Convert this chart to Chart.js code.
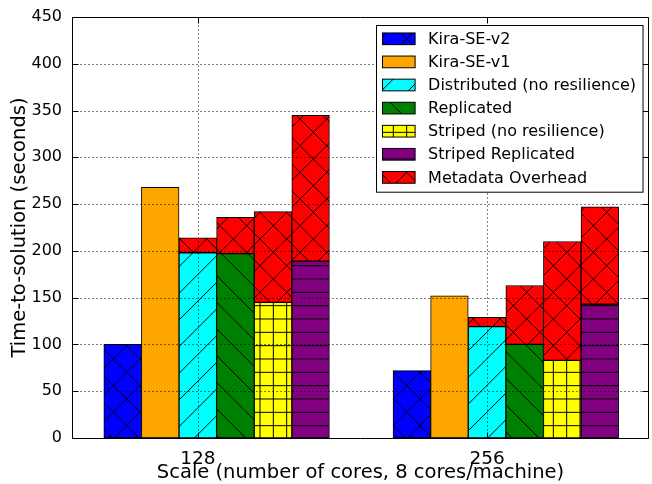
<!DOCTYPE html>
<html>
<head>
<meta charset="utf-8">
<script src="https://cdn.jsdelivr.net/npm/chart.js@4"></script>
<style>
  html, body { margin: 0; padding: 0; background: #fff; }
  #wrap { width: 652px; height: 484px; }
</style>
</head>
<body>
<div id="wrap"><canvas id="chart" width="652" height="484"></canvas></div>
<script>
// Scales (cores) on the x axis
const categories = ['128', '256'];

// Time-to-solution in seconds per configuration
const kiraV2 = [100, 72];
const kiraV1 = [268, 152];
const distributed = [198, 119];
const replicated = [197, 100];
const striped = [145, 83];
const stripedReplicated = [189, 143];

// Metadata overhead stacked on top of each storage configuration
const overheadDistributed = [16, 10];
const overheadReplicated = [39, 63];
const overheadStriped = [97, 127];
const overheadStripedReplicated = [156, 104];

const yTickValues = [0, 50, 100, 150, 200, 250, 300, 350, 400, 450];

const seriesNames = [
  'Kira-SE-v2', 'Kira-SE-v1', 'Distributed (no resilience)', 'Replicated',
  'Striped (no resilience)', 'Striped Replicated', 'Metadata Overhead'
];

const FONT = '"DejaVu Sans", "Liberation Sans", sans-serif';

// ---- hatch patterns (line spacing, phase anchored to the canvas) ----
const STEP = 40 / 3;
const TILE = 80;
const PH_X = 6.67, PH_Y = 12.33;
function makeHatch(color, spec) {
  const c = document.createElement('canvas');
  c.width = c.height = TILE;
  const g = c.getContext('2d');
  g.fillStyle = color;
  g.fillRect(0, 0, TILE, TILE);
  if (spec) {
    g.strokeStyle = '#000';
    g.lineWidth = 1;
    g.beginPath();
    const lines = (phase, period, fn) => { for (let j = -14; j <= 14; j++) fn(phase + j * period); };
    if (spec.includes('-') || spec.includes('+'))
      lines(PH_Y, STEP, o => { g.moveTo(-2, o); g.lineTo(TILE + 2, o); });
    if (spec.includes('|') || spec.includes('+'))
      lines(PH_X, STEP, o => { g.moveTo(o, -2); g.lineTo(o, TILE + 2); });
    if (spec.includes('/') || spec.includes('x'))
      lines(PH_X + PH_Y, 2 * STEP, c0 => { g.moveTo(c0 + 10, -10); g.lineTo(c0 - TILE - 10, TILE + 10); });
    if (spec.includes('\\') || spec.includes('x'))
      lines(PH_Y - PH_X, 2 * STEP, c0 => { g.moveTo(-10, c0 - 10); g.lineTo(TILE + 10, c0 + TILE + 10); });
    g.stroke();
  }
  return g.createPattern(c, 'repeat');
}

// ---- bar placement: six slots per scale, third slot centred on the tick ----
const BAR_W = 0.13;
const xAt = (group, slot) => group + (slot - 2) * BAR_W;
const pts = (values, slot) => values.map((v, g) => ({ x: xAt(g, slot), y: v }));

const overheadPts = [
  ...pts(overheadDistributed, 2), ...pts(overheadReplicated, 3),
  ...pts(overheadStriped, 4), ...pts(overheadStripedReplicated, 5)
].sort((a, b) => a.x - b.x);

const datasets = [
  { label: seriesNames[0], data: pts(kiraV2, 0), backgroundColor: makeHatch('#0000ff', 'x') },
  { label: seriesNames[1], data: pts(kiraV1, 1), backgroundColor: makeHatch('#ffa500', '') },
  { label: seriesNames[2], data: pts(distributed, 2), backgroundColor: makeHatch('#00ffff', '/') },
  { label: seriesNames[3], data: pts(replicated, 3), backgroundColor: makeHatch('#008000', '\\') },
  { label: seriesNames[4], data: pts(striped, 4), backgroundColor: makeHatch('#ffff00', '+') },
  { label: seriesNames[5], data: pts(stripedReplicated, 5), backgroundColor: makeHatch('#800080', '-') },
  { label: seriesNames[6], data: overheadPts, backgroundColor: makeHatch('#ff0000', 'x') }
];

// ---- dotted grid above bars, box frame with inward ticks, boxed legend ----
const framePlugin = {
  id: 'frameAndLegend',
  afterDatasetsDraw(chart) {
    const { ctx, chartArea: a, scales: { x, y } } = chart;
    const L = 72.5, R = 648.5, T = Math.round(a.top) + 0.5, B = Math.round(a.bottom) + 0.5;
    ctx.save();
    ctx.strokeStyle = '#000';
    ctx.lineWidth = 1;

    // grid
    ctx.setLineDash([1, 3]);
    ctx.beginPath();
    y.ticks.forEach(t => {
      const py = Math.round(y.getPixelForValue(t.value)) + 0.5;
      if (py > T + 1 && py < B - 1) { ctx.moveTo(L, py); ctx.lineTo(R, py); }
    });
    x.ticks.forEach(t => {
      const px = Math.round(x.getPixelForValue(t.value)) + 0.5;
      ctx.moveTo(px, B); ctx.lineTo(px, T);
    });
    ctx.stroke();
    ctx.setLineDash([]);

    // frame
    ctx.beginPath();
    ctx.rect(L, T, R - L, B - T);
    ctx.stroke();

    // inward ticks on all four sides
    const TL = 6;
    ctx.beginPath();
    y.ticks.forEach(t => {
      const py = Math.round(y.getPixelForValue(t.value)) + 0.5;
      ctx.moveTo(L, py); ctx.lineTo(L + TL, py);
      ctx.moveTo(R, py); ctx.lineTo(R - TL, py);
    });
    x.ticks.forEach(t => {
      const px = Math.round(x.getPixelForValue(t.value)) + 0.5;
      ctx.moveTo(px, B); ctx.lineTo(px, B - TL);
      ctx.moveTo(px, T); ctx.lineTo(px, T + TL);
    });
    ctx.stroke();

    // legend
    const fontPx = 16;
    ctx.font = fontPx + 'px ' + FONT;
    const dsList = chart.data.datasets;
    const textW = Math.max(...dsList.map(d => ctx.measureText(d.label).width));
    const rowH = 23.1, padTop = 13.3, padBottom = 14.8;
    const patchW = 32.6, patchH = 11.7, padL = 6, gap = 13;
    const boxW = padL + patchW + gap + textW + 7;
    const boxH = padTop + (dsList.length - 1) * rowH + padBottom;
    const bx = Math.round(R - 6 - boxW) + 0.5;
    const by = T + 8;
    ctx.fillStyle = '#fff';
    ctx.fillRect(bx, by, boxW, boxH);
    ctx.strokeRect(bx, by, boxW, boxH);
    dsList.forEach((d, i) => {
      const cy = by + padTop + i * rowH;
      const px = bx + padL;
      ctx.fillStyle = d.backgroundColor;
      ctx.fillRect(px, cy - patchH / 2, patchW, patchH);
      ctx.strokeRect(px, cy - patchH / 2, patchW, patchH);
      ctx.fillStyle = '#000';
      ctx.textAlign = 'left';
      ctx.textBaseline = 'middle';
      ctx.fillText(d.label, px + patchW + gap, cy + 1);
    });
    ctx.restore();
  }
};

new Chart(document.getElementById('chart'), {
  type: 'bar',
  data: { datasets },
  options: {
    responsive: false,
    animation: false,
    devicePixelRatio: 1,
    layout: { padding: { top: 17, right: 3, bottom: 0, left: 0 } },
    datasets: {
      bar: {
        grouped: false,
        barPercentage: 1,
        categoryPercentage: 1,
        borderColor: '#000',
        borderWidth: 1,
        borderSkipped: false
      }
    },
    plugins: { legend: { display: false }, tooltip: { enabled: false } },
    scales: {
      x: {
        type: 'linear',
        offset: false,
        min: -0.435,
        max: 1.56,
        bounds: 'data',
        afterBuildTicks: s => { s.ticks = categories.map((_, i) => ({ value: i })); },
        afterFit: s => { s.height = 46; },
        grid: { display: false, offset: false },
        border: { display: false },
        ticks: {
          callback: v => categories[Math.round(v)],
          color: '#000',
          padding: 2,
          maxRotation: 0,
          font: { family: FONT, size: 18.5 }
        },
        title: {
          display: true,
          text: 'Scale (number of cores, 8 cores/machine)',
          color: '#000',
          font: { family: FONT, size: 19.5, lineHeight: 1 },
          padding: { top: 0, bottom: 1 }
        }
      },
      y: {
        stacked: true,
        min: 0,
        max: 450,
        afterBuildTicks: s => { s.ticks = yTickValues.map(v => ({ value: v })); },
        afterFit: s => { s.width = 72; },
        grid: { display: false },
        border: { display: false },
        ticks: {
          color: '#000',
          padding: 2,
          font: { family: FONT, size: 16 }
        },
        title: {
          display: true,
          text: 'Time-to-solution (seconds)',
          color: '#000',
          font: { family: FONT, size: 19.5, lineHeight: 1 },
          padding: { top: 10, bottom: 0 }
        }
      }
    }
  },
  plugins: [framePlugin]
});
</script>
</body>
</html>
